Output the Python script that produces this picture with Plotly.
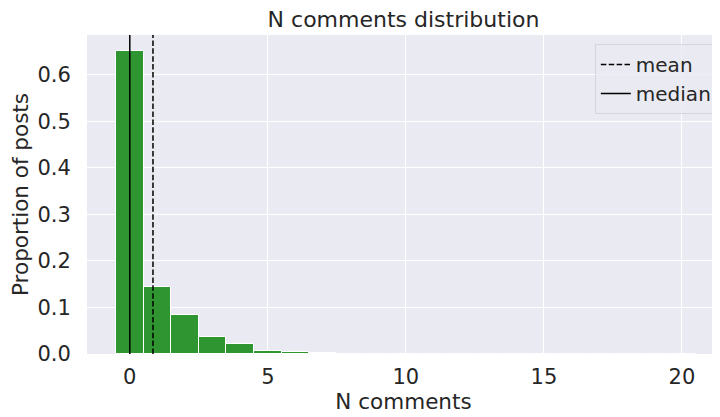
import plotly.graph_objects as go

# Histogram data (proportion of posts per number of comments)
n_comments = list(range(0, 21))
proportions = [0.650, 0.144, 0.084, 0.037, 0.022, 0.006, 0.004, 0.002, 0.001, 0.0005,
               0.0003, 0.0002, 0.0001, 0.0001, 0.0001, 0.0, 0.0, 0.0, 0.0, 0.0, 0.0]
mean_value = 0.84
median_value = 0.0

title_text = "N comments distribution"
x_label = "N comments"
y_label = "Proportion of posts"
x_ticks = [0, 5, 10, 15, 20]
y_ticks = [0.0, 0.1, 0.2, 0.3, 0.4, 0.5, 0.6]

FONT = "DejaVu Sans"
TXT = "#262626"
DASH = "5.5px,2.4px"

fig = go.Figure()
fig.add_trace(go.Bar(
    x=n_comments, y=proportions, width=1,
    marker=dict(color="rgb(47,149,48)", line=dict(color="white", width=1)),
    showlegend=False, hoverinfo="x+y",
))

# vertical lines for mean and median spanning the plot height
fig.add_shape(type="line", xref="x", yref="paper", x0=mean_value, x1=mean_value, y0=0, y1=1,
              line=dict(color="black", width=1.5, dash=DASH))
fig.add_shape(type="line", xref="x", yref="paper", x0=median_value, x1=median_value, y0=0, y1=1,
              line=dict(color="black", width=1.5))

# legend entries
fig.add_trace(go.Scatter(x=[None], y=[None], mode="lines", name="mean", legendgroup="a",
                         line=dict(color="black", width=1.5, dash=DASH)))
fig.add_trace(go.Scatter(x=[None], y=[None], mode="lines", name="median", legendgroup="b",
                         line=dict(color="black", width=1.5)))

# page body has an 8px margin, so the figure is offset by 8px right/down
fig.update_layout(
    width=712, height=409,
    margin=dict(l=79, r=0, t=27, b=63, autoexpand=False),
    paper_bgcolor="white", plot_bgcolor="#EAEAF2",
    font=dict(family=FONT, color=TXT, size=21),
    title=dict(text=title_text, x=0.5, xref="paper", xanchor="center", y=0.972, yanchor="middle",
               font=dict(size=22, color=TXT)),
    bargap=0,
    legend=dict(x=0.995, xanchor="right", y=0.972, yanchor="top",
                bgcolor="rgba(234,234,242,0.8)", bordercolor="#D5D5DD", borderwidth=1,
                font=dict(size=20, color=TXT), traceorder="grouped", tracegroupgap=0),
    xaxis=dict(range=[-1.55, 21.38], tickvals=x_ticks, showgrid=True, gridcolor="white",
               gridwidth=1.2, zeroline=False, ticks="outside", ticklen=4,
               tickcolor="rgba(0,0,0,0)", tickfont=dict(size=21), automargin=False,
               title=dict(text=x_label, font=dict(size=21.5), standoff=2)),
    yaxis=dict(range=[0, 0.685], tickvals=y_ticks, tickformat=".1f", showgrid=True,
               gridcolor="white", gridwidth=1.2, zeroline=False, ticks="outside", ticklen=11,
               tickcolor="rgba(0,0,0,0)", tickfont=dict(size=21), automargin=False,
               title=dict(text=y_label, font=dict(size=21.5), standoff=6)),
)

fig.write_html("out.html")
